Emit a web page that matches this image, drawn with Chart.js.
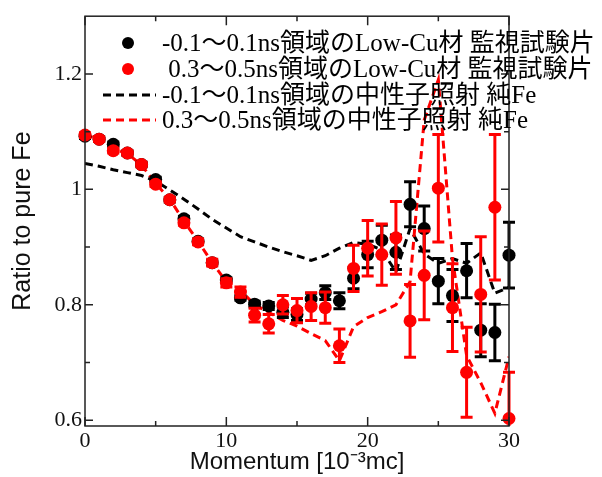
<!DOCTYPE html>
<html><head><meta charset="utf-8">
<script src="https://cdn.jsdelivr.net/npm/chart.js@4"></script>
<style>html,body{margin:0;padding:0;background:#fff}#wrap{width:602px;height:477px;position:relative}</style>
</head><body><div id="wrap"><canvas id="c" width="602" height="477"></canvas></div>
<script>
const momentum = [0,1,2,3,4,5,6,7,8,9,10,11,12,13,14,15,16,17,18,19,20,21,22,23,24,25,26,27,28,29,30];
const lowCuFast = [1.092,1.087,1.078,1.063,1.043,1.017,0.982,0.949,0.910,0.873,0.843,0.812,0.801,0.798,0.787,0.783,0.810,0.821,0.807,0.846,0.887,0.912,0.891,0.974,0.932,0.841,0.816,0.859,0.756,0.752,0.886];
const lowCuFastErr = [0.004,0.004,0.004,0.004,0.004,0.004,0.004,0.004,0.004,0.004,0.004,0.004,0.005,0.006,0.009,0.010,0.010,0.012,0.014,0.018,0.023,0.026,0.030,0.039,0.039,0.039,0.045,0.047,0.046,0.049,0.057];
const lowCuSlow = [1.094,1.087,1.067,1.063,1.043,1.009,0.982,0.942,0.909,0.873,0.838,0.822,0.782,0.767,0.800,0.790,0.797,0.795,0.729,0.863,0.898,0.887,0.916,0.772,0.851,1.002,0.795,0.683,0.818,0.969,0.603];
const lowCuSlowErr = [0.004,0.004,0.004,0.004,0.004,0.004,0.004,0.004,0.005,0.006,0.007,0.009,0.012,0.016,0.016,0.021,0.024,0.027,0.029,0.040,0.048,0.053,0.063,0.063,0.077,0.093,0.076,0.078,0.100,0.126,0.080];
const pureFeFast = [1.045,1.040,1.034,1.029,1.024,1.014,0.999,0.983,0.966,0.948,0.933,0.918,0.909,0.900,0.892,0.885,0.877,0.885,0.898,0.908,0.905,0.895,0.857,0.932,0.888,0.872,0.880,0.872,0.890,0.820,0.830];
const pureFeSlow = [1.094,1.087,1.070,1.062,1.042,1.010,0.983,0.945,0.910,0.873,0.840,0.825,0.800,0.787,0.773,0.763,0.750,0.738,0.703,0.762,0.778,0.788,0.800,0.840,1.120,1.190,0.880,0.712,0.665,0.612,0.710];
const legendLabels = ['-0.1～0.1ns領域のLow-Cu材 監視試験片',' 0.3～0.5ns領域のLow-Cu材 監視試験片','-0.1～0.1ns領域の中性子照射 純Fe','0.3～0.5ns領域の中性子照射 純Fe'];
const xTickValues = [0,10,20,30];
const xTickLabels = ['0','10','20','30'];
const xMinorTicks = [5,15,25];
const yTickValues = [0.6,0.8,1.0,1.2];
const yTickLabels = ['0.6','0.8','1','1.2'];
const yMinorTicks = [0.7,0.9,1.1];
const xTitle = 'Momentum [10⁻³mc]';
const yTitle = 'Ratio to pure Fe';

const pts = (ys) => momentum.map((x,i)=>({x:x,y:ys[i]}));
const SERIF = '"Liberation Serif", "Noto Sans CJK JP", serif';
const SANS = '"Liberation Sans", Arial, sans-serif';

const errorBarPlugin = {
  id:'errorBars',
  beforeDatasetDraw(chart,args){
    const ds = chart.data.datasets[args.index];
    if(!ds.errors) return;
    const xs = chart.scales.x, ys = chart.scales.y, ctx = chart.ctx, a = chart.chartArea;
    ctx.save();
    ctx.beginPath(); ctx.rect(a.left-8,a.top,a.right-a.left+16,a.bottom-a.top); ctx.clip();
    ctx.strokeStyle = ds.backgroundColor; ctx.lineWidth = 3;
    ds.data.forEach((p,i)=>{
      const e = ds.errors[i];
      const px = xs.getPixelForValue(p.x);
      const y1 = ys.getPixelForValue(p.y+e), y2 = ys.getPixelForValue(p.y-e);
      ctx.beginPath();
      ctx.moveTo(px,y1); ctx.lineTo(px,y2);
      ctx.moveTo(px-6,y1); ctx.lineTo(px+6,y1);
      ctx.moveTo(px-6,y2); ctx.lineTo(px+6,y2);
      ctx.stroke();
    });
    ctx.restore();
  }
};

const framePlugin = {
  id:'frame',
  afterDatasetsDraw(chart){
    const ctx = chart.ctx, a = chart.chartArea, xs = chart.scales.x, ys = chart.scales.y;
    ctx.save();
    ctx.strokeStyle = '#222'; ctx.lineWidth = 1.5;
    ctx.strokeRect(a.left, a.top, a.right-a.left, a.bottom-a.top);
    ctx.beginPath();
    const tick = (v,len,isX)=>{
      if(isX){ const p = xs.getPixelForValue(v);
        ctx.moveTo(p,a.bottom); ctx.lineTo(p,a.bottom-len);
        ctx.moveTo(p,a.top); ctx.lineTo(p,a.top+len);
      } else { const p = ys.getPixelForValue(v);
        ctx.moveTo(a.left,p); ctx.lineTo(a.left+len,p);
        ctx.moveTo(a.right,p); ctx.lineTo(a.right-len,p);
      }
    };
    xTickValues.forEach(v=>tick(v,9,true));
    xMinorTicks.forEach(v=>tick(v,5,true));
    yTickValues.forEach(v=>tick(v,8,false));
    yMinorTicks.forEach(v=>tick(v,5,false));
    ctx.stroke();
    ctx.restore();
  }
};

const legendPlugin = {
  id:'customLegend',
  afterDraw(chart){
    const ctx = chart.ctx;
    const rows = [43,69,95,120];
    const dsOrder = [1,0,3,2];
    ctx.save();
    ctx.font = '25px ' + SERIF;
    ctx.textBaseline = 'middle'; ctx.textAlign = 'left'; ctx.fillStyle = '#000';
    rows.forEach((y,i)=>{
      const ds = chart.data.datasets[dsOrder[i]];
      if(ds.showLine){
        ctx.strokeStyle = ds.borderColor; ctx.lineWidth = 3; ctx.setLineDash([8,5]);
        ctx.beginPath(); ctx.moveTo(103,y); ctx.lineTo(156,y); ctx.stroke(); ctx.setLineDash([]);
      } else {
        ctx.fillStyle = ds.backgroundColor;
        ctx.beginPath(); ctx.arc(128,y,6,0,Math.PI*2); ctx.fill();
      }
      ctx.fillStyle = '#000';
      ctx.fillText(legendLabels[i], 162, y+1);
    });
    ctx.restore();
  }
};

new Chart(document.getElementById('c'),{
  type:'scatter',
  data:{datasets:[
    {label:legendLabels[1], data:pts(lowCuSlow), errors:lowCuSlowErr, backgroundColor:'#ff0000', borderColor:'#ff0000', pointRadius:6.5, pointBorderWidth:0, showLine:false, order:0, clip:false},
    {label:legendLabels[0], data:pts(lowCuFast), errors:lowCuFastErr, backgroundColor:'#000000', borderColor:'#000000', pointRadius:6.5, pointBorderWidth:0, showLine:false, order:1, clip:false},
    {label:legendLabels[3], data:pts(pureFeSlow), borderColor:'#ff0000', backgroundColor:'#ff0000', showLine:true, borderWidth:3, borderDash:[8,5], pointRadius:0, tension:0, order:2},
    {label:legendLabels[2], data:pts(pureFeFast), borderColor:'#000000', backgroundColor:'#000000', showLine:true, borderWidth:3, borderDash:[8,5], pointRadius:0, tension:0, order:3}
  ]},
  options:{
    responsive:false, animation:false, devicePixelRatio:1,
    layout:{padding:{top:14,right:93,left:8,bottom:0}},
    plugins:{legend:{display:false}, tooltip:{enabled:false}},
    scales:{
      x:{type:'linear', min:0, max:30,
        afterBuildTicks(s){ s.ticks = xTickValues.map(v=>({value:v})); },
        afterFit(s){ s.height = 51; },
        ticks:{font:{family:SERIF,size:22}, color:'#111', padding:2, maxRotation:0,
          callback:(v)=>{const i=xTickValues.indexOf(v); return i>=0?xTickLabels[i]:'';}},
        grid:{display:false, drawTicks:false}, border:{display:false},
        title:{display:true, text:xTitle, font:{family:SANS,size:24}, color:'#111', padding:{top:0,bottom:0}}
      },
      y:{type:'linear', min:0.59, max:1.30,
        afterBuildTicks(s){ s.ticks = yTickValues.map(v=>({value:v})); },
        afterFit(s){ s.width = 77; },
        ticks:{font:{family:SERIF,size:22}, color:'#111', padding:3,
          callback:(v)=>{const i=yTickValues.findIndex(t=>Math.abs(t-v)<1e-9); return i>=0?yTickLabels[i]:'';}},
        grid:{display:false, drawTicks:false}, border:{display:false},
        title:{display:true, text:yTitle, font:{family:SANS,size:25}, color:'#111', padding:{top:0,bottom:0}}
      }
    }
  },
  plugins:[errorBarPlugin, framePlugin, legendPlugin]
});
</script></body></html>
